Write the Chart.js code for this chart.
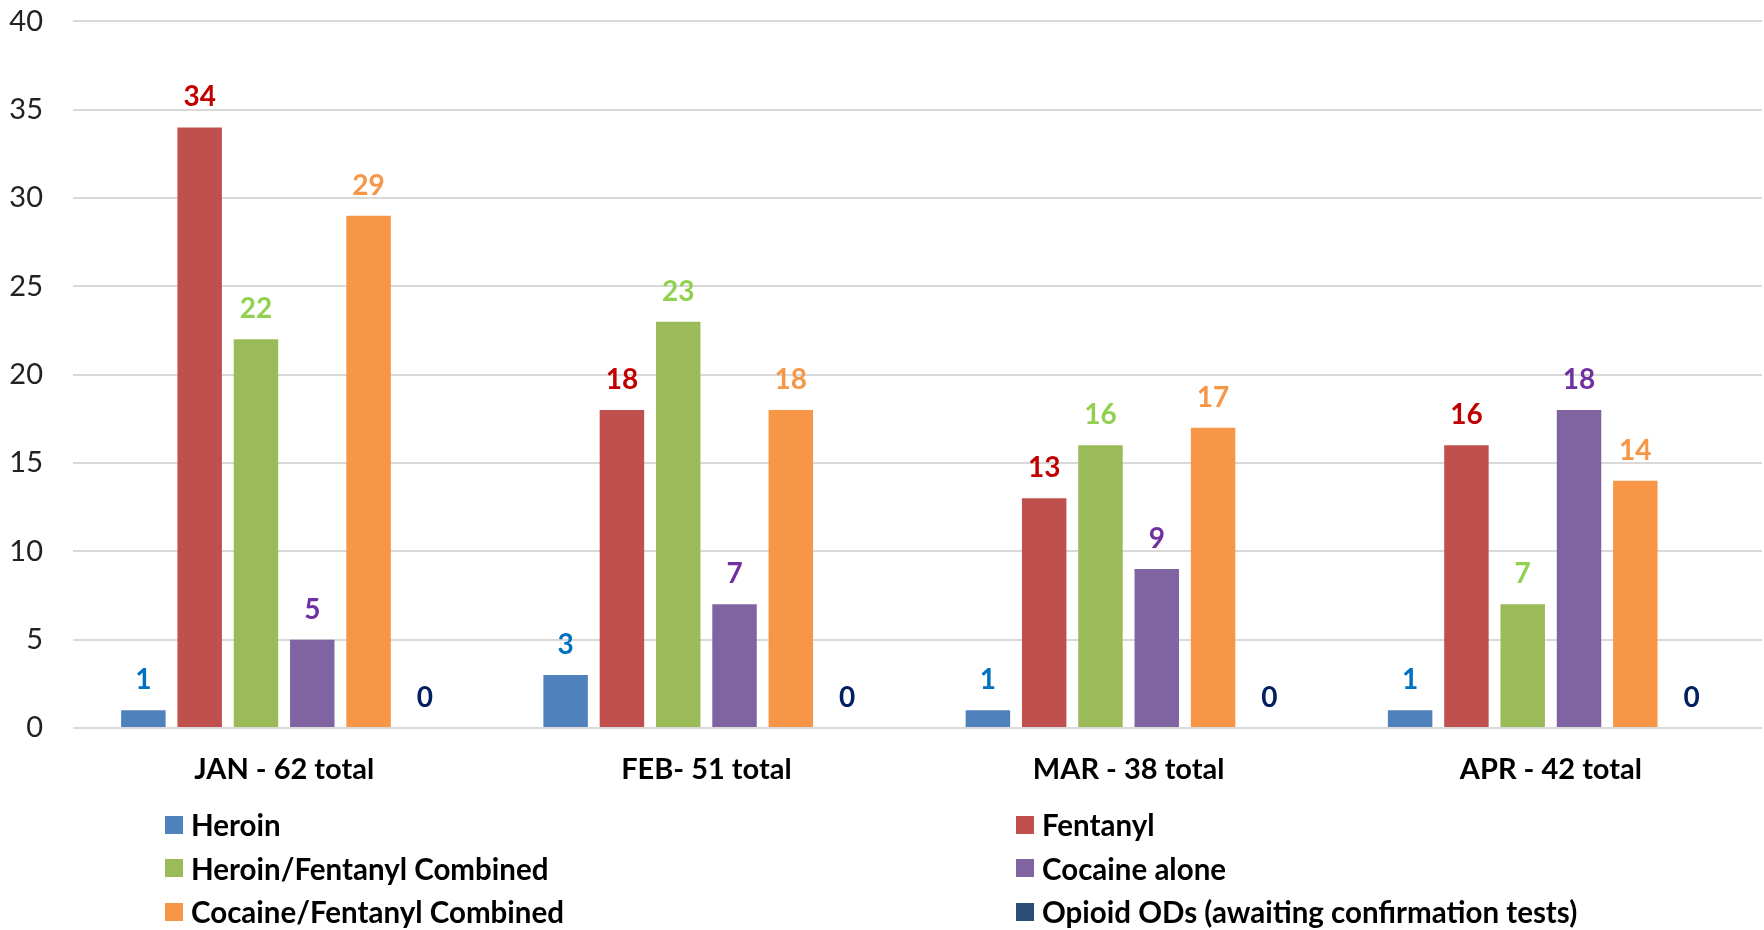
<!DOCTYPE html>
<html>
<head>
<meta charset="utf-8">
<script src="https://cdn.jsdelivr.net/npm/chart.js@4"></script>
<style>
  html, body { margin: 0; padding: 0; background: #fff; overflow: hidden; }
  #wrap { position: relative; width: 1764px; height: 930px; overflow: hidden; }
  #odChart { position: absolute; left: 0; top: -26px; }
  #legend {
    position: absolute; left: 165px; top: 803px;
    display: grid; grid-template-columns: 851px 700px; row-gap: 0;
    font-family: Lato, sans-serif; font-weight: bold; font-size: 29.5px; color: #000;
  }
  .item { display: flex; align-items: center; height: 43.5px; white-space: nowrap; }
  .box { width: 18px; height: 18px; margin-right: 8px; }
</style>
</head>
<body>
<div id="wrap">
  <canvas id="odChart" width="1764" height="930"></canvas>
  <div id="legend"></div>
</div>
<script>
const months = ['JAN - 62 total', 'FEB- 51 total', 'MAR - 38 total', 'APR - 42 total'];
const seriesNames = ['Heroin', 'Fentanyl', 'Heroin/Fentanyl Combined', 'Cocaine alone',
  'Cocaine/Fentanyl Combined', 'Opioid ODs (awaiting confirmation tests)'];
const heroin = [1, 3, 1, 1];
const fentanyl = [34, 18, 13, 16];
const heroinFentanyl = [22, 23, 16, 7];
const cocaineAlone = [5, 7, 9, 18];
const cocaineFentanyl = [29, 18, 17, 14];
const opioidPending = [0, 0, 0, 0];
const yTicks = [0, 5, 10, 15, 20, 25, 30, 35, 40];

const barColors = ['#4F81BD', '#C0504D', '#9BBB59', '#8064A2', '#F79646', '#2C4D75'];
const labelColors = ['#0070C0', '#C00000', '#92D050', '#7030A0', '#F79646', '#002060'];
const allValues = [heroin, fentanyl, heroinFentanyl, cocaineAlone, cocaineFentanyl, opioidPending];

// value labels above each bar
const barLabels = {
  id: 'barLabels',
  afterDatasetsDraw(chart) {
    const ctx = chart.ctx;
    ctx.save();
    ctx.font = 'bold 28px Lato';
    ctx.textAlign = 'center';
    ctx.textBaseline = 'middle';
    chart.data.datasets.forEach((ds, i) => {
      chart.getDatasetMeta(i).data.forEach((bar, j) => {
        ctx.fillStyle = labelColors[i];
        ctx.fillText(ds.data[j], bar.x, bar.y - 30);
      });
    });
    ctx.restore();
  }
};

new Chart(document.getElementById('odChart'), {
  type: 'bar',
  data: {
    labels: months,
    datasets: allValues.map((vals, i) => ({
      label: seriesNames[i],
      data: vals,
      backgroundColor: barColors[i],
      categoryPercentage: 0.8,
      barPercentage: 0.79
    }))
  },
  options: {
    responsive: false,
    animation: false,
    layout: { padding: { top: 0, right: 2, left: 0, bottom: 106 } },
    plugins: { legend: { display: false }, tooltip: { enabled: false } },
    scales: {
      y: {
        min: 0, max: 40,
        afterBuildTicks: s => { s.ticks = yTicks.map(v => ({ value: v })); },
        afterFit: s => { s.width = 73; },
        ticks: { padding: 30, color: '#222', font: { family: 'Lato', size: 29 } },
        grid: { color: '#D9D9D9', lineWidth: 2, drawTicks: false },
        border: { display: false }
      },
      x: {
        afterFit: s => { s.height = 70; },
        ticks: { padding: 24, color: '#000', font: { family: 'Lato', size: 29, weight: 'bold' } },
        grid: { display: false, drawTicks: false },
        border: { display: false }
      }
    }
  },
  plugins: [barLabels]
});

// two-column legend, filled row by row
const legend = document.getElementById('legend');
seriesNames.forEach((name, i) => {
  const item = document.createElement('div');
  item.className = 'item';
  item.innerHTML = '<span class="box" style="background:' + barColors[i] + '"></span><span>' + name + '</span>';
  legend.appendChild(item);
});
</script>
</body>
</html>
